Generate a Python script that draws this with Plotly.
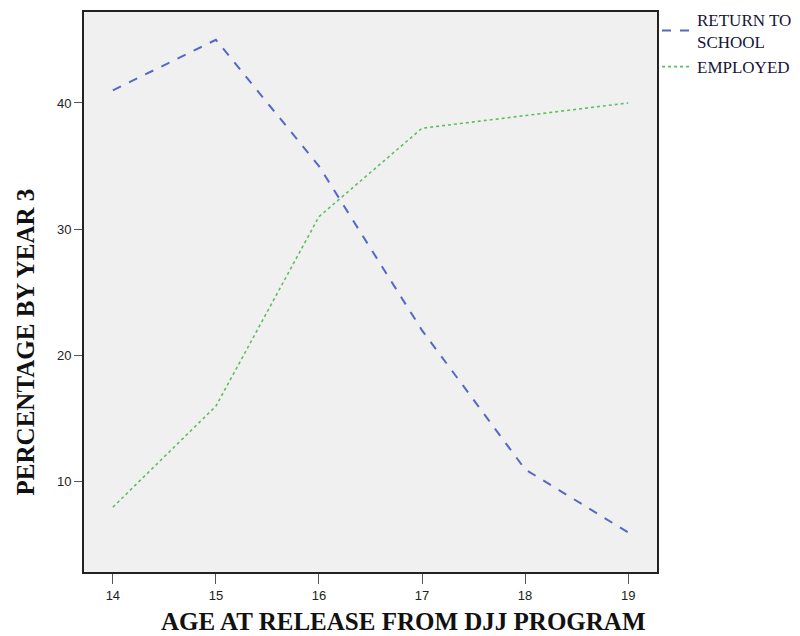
import plotly.graph_objects as go

ages = [14, 15, 16, 17, 18, 19]
return_to_school = [41, 45, 35, 22, 11, 6]
employed = [8, 16, 31, 38, 39, 40]
y_ticks = [10, 20, 30, 40]

fig = go.Figure()
fig.add_trace(go.Scatter(x=ages, y=return_to_school, mode="lines", name="RETURN TO<br>SCHOOL",
                         line=dict(color="#5468c4", width=2, dash="dash")))
fig.add_trace(go.Scatter(x=ages, y=employed, mode="lines", name="EMPLOYED",
                         line=dict(color="#5cc05c", width=1.6, dash="dot")))

fig.update_layout(
    width=792, height=628,
    margin=dict(l=76, r=143, t=4, b=64, autoexpand=False),
    paper_bgcolor="white", plot_bgcolor="#f0f0f0",
    showlegend=True,
    legend=dict(x=1.0, xanchor="left", y=1.018, yanchor="top", bgcolor="rgba(0,0,0,0)",
                font=dict(family="Liberation Serif", size=17, color="#15153a"),
                itemwidth=30, tracegroupgap=0),
    xaxis=dict(range=[13.72, 19.28], tickvals=ages, ticks="outside", ticklen=10, tickcolor="#555",
               showgrid=False, zeroline=False, showline=True, linecolor="#222", linewidth=2, mirror=True,
               tickfont=dict(family="Liberation Sans", size=13, color="#222")),
    yaxis=dict(range=[2.87, 47.2], tickvals=y_ticks, ticks="outside", ticklen=8, tickcolor="#555",
               showgrid=False, zeroline=False, showline=True, linecolor="#222", linewidth=2, mirror=True,
               tickfont=dict(family="Liberation Sans", size=13, color="#222")),
    annotations=[
        dict(text="<b>AGE AT RELEASE FROM DJJ PROGRAM</b>", xref="paper", yref="paper", x=0.558, y=0,
             yshift=-49, xanchor="center", yanchor="middle", showarrow=False,
             font=dict(family="Liberation Serif", size=25, color="#111")),
        dict(text="<b>PERCENTAGE BY YEAR 3</b>", xref="paper", yref="paper", x=0, xshift=-59, y=0.41,
             xanchor="center", yanchor="middle", textangle=-90, showarrow=False,
             font=dict(family="Liberation Serif", size=25, color="#111")),
    ],
)
fig.write_html("out.html")
